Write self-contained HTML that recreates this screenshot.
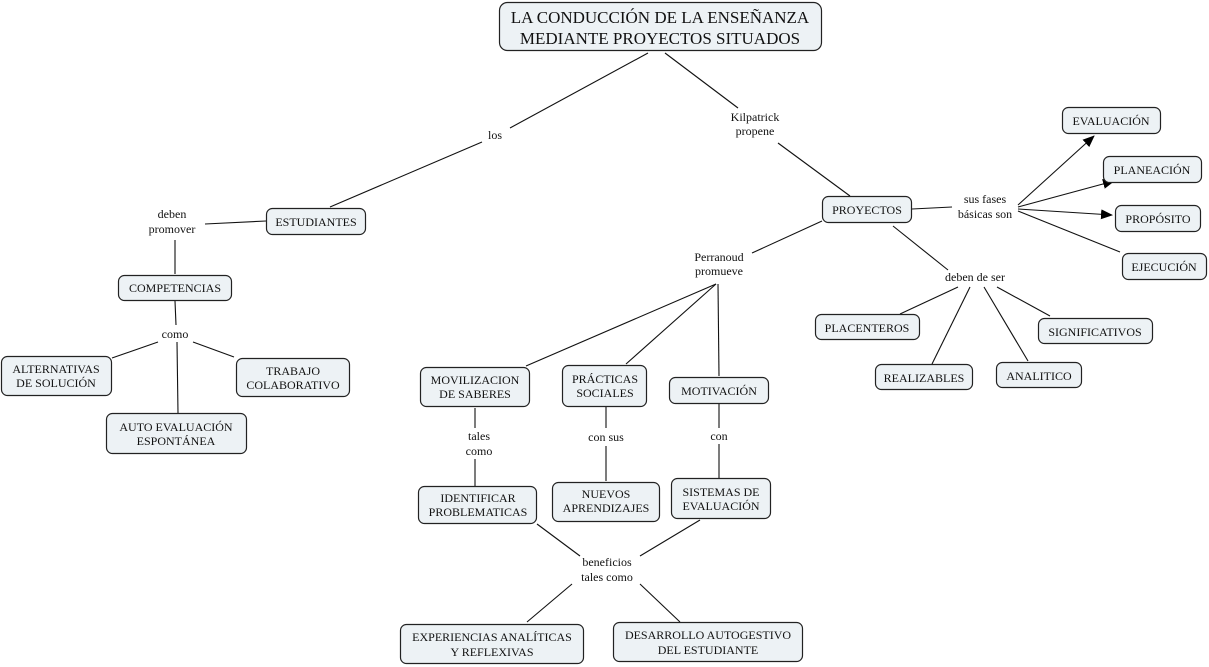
<!DOCTYPE html>
<html><head><meta charset="utf-8"><style>
html,body{margin:0;padding:0;background:#fff;}
svg{display:block;font-family:"Liberation Serif",serif;}
.b{fill:#edf2f5;stroke:#222;stroke-width:1.2;}
.l{stroke:#111;stroke-width:1.1;fill:none;}
text{font-size:12px;fill:#111;text-anchor:middle;}
</style></head><body>
<svg width="1209" height="667" viewBox="0 0 1209 667">
<defs><marker id="a" markerWidth="12" markerHeight="10" refX="11" refY="5" orient="auto" markerUnits="userSpaceOnUse"><path d="M0,0 L12,5 L0,10 z" fill="#000"/></marker></defs>
<g class="l">
<line x1="648" y1="53" x2="510" y2="128"/><line x1="482" y1="142" x2="330" y2="207"/>
<line x1="665" y1="53" x2="738" y2="108"/><line x1="778" y1="143" x2="850" y2="196"/>
<line x1="266" y1="221" x2="205" y2="224"/><line x1="175" y1="240" x2="175" y2="274"/>
<line x1="175" y1="301" x2="176" y2="325"/>
<line x1="158" y1="342" x2="112" y2="358"/><line x1="177" y1="342" x2="178" y2="413"/><line x1="193" y1="342" x2="234" y2="357"/>
<line x1="912" y1="209" x2="952" y2="207"/>
<line x1="1018" y1="205" x2="1094" y2="136" marker-end="url(#a)"/>
<line x1="1018" y1="207" x2="1114" y2="181" marker-end="url(#a)"/>
<line x1="1018" y1="209" x2="1112" y2="215" marker-end="url(#a)"/>
<line x1="1018" y1="211" x2="1120" y2="252"/>
<line x1="822" y1="221" x2="752" y2="253"/>
<line x1="716" y1="284" x2="526" y2="366"/><line x1="716" y1="284" x2="626" y2="364"/><line x1="718" y1="284" x2="719" y2="376"/>
<line x1="893" y1="226" x2="948" y2="270"/>
<line x1="958" y1="287" x2="900" y2="314"/><line x1="970" y1="287" x2="932" y2="364"/><line x1="984" y1="287" x2="1028" y2="361"/><line x1="997" y1="287" x2="1050" y2="316"/>
<line x1="475" y1="408" x2="475" y2="428"/><line x1="475" y1="459" x2="475" y2="486"/>
<line x1="606" y1="407" x2="606" y2="428"/><line x1="606" y1="446" x2="606" y2="481"/>
<line x1="719" y1="404" x2="719" y2="428"/><line x1="719" y1="444" x2="719" y2="478"/>
<line x1="537" y1="524" x2="580" y2="556"/><line x1="700" y1="520" x2="640" y2="556"/>
<line x1="572" y1="584" x2="527" y2="622"/><line x1="640" y1="584" x2="680" y2="622"/>
</g>
<rect class="b" x="499.5" y="2.5" width="322" height="48" rx="8"/>
<text x="660" y="23" style="font-size:17px">LA CONDUCCIÓN DE LA ENSEÑANZA</text>
<text x="660" y="44" style="font-size:17px">MEDIANTE PROYECTOS SITUADOS</text>
<rect class="b" x="266.5" y="208.5" width="99" height="26" rx="6"/><text x="316" y="226">ESTUDIANTES</text>
<rect class="b" x="822.5" y="196.5" width="89" height="26" rx="6"/><text x="867" y="214">PROYECTOS</text>
<rect class="b" x="1062.5" y="107.5" width="98" height="26" rx="6"/><text x="1111" y="125">EVALUACIÓN</text>
<rect class="b" x="1103.5" y="156.5" width="98" height="26" rx="6"/><text x="1152" y="174">PLANEACIÓN</text>
<rect class="b" x="1115.5" y="205.5" width="85" height="26" rx="6"/><text x="1158" y="223">PROPÓSITO</text>
<rect class="b" x="1122.5" y="253.5" width="84" height="26" rx="6"/><text x="1164" y="271">EJECUCIÓN</text>
<rect class="b" x="118.5" y="275.5" width="113" height="25" rx="6"/><text x="175" y="292">COMPETENCIAS</text>
<rect class="b" x="1.5" y="356.5" width="110" height="39" rx="6"/><text x="56" y="373">ALTERNATIVAS</text><text x="56" y="387">DE SOLUCIÓN</text>
<rect class="b" x="236.5" y="358.5" width="113" height="38" rx="6"/><text x="293" y="375">TRABAJO</text><text x="293" y="389">COLABORATIVO</text>
<rect class="b" x="106.5" y="413.5" width="140" height="40" rx="6"/><text x="176" y="431">AUTO EVALUACIÓN</text><text x="176" y="445">ESPONTÁNEA</text>
<rect class="b" x="420.5" y="367.5" width="109" height="39" rx="6"/><text x="475" y="384">MOVILIZACION</text><text x="475" y="398">DE SABERES</text>
<rect class="b" x="562.5" y="365.5" width="84" height="41" rx="6"/><text x="605" y="383">PRÁCTICAS</text><text x="605" y="397">SOCIALES</text>
<rect class="b" x="669.5" y="377.5" width="99" height="26" rx="6"/><text x="719" y="395">MOTIVACIÓN</text>
<rect class="b" x="418.5" y="486.5" width="118" height="37" rx="6"/><text x="478" y="502">IDENTIFICAR</text><text x="478" y="516">PROBLEMATICAS</text>
<rect class="b" x="552.5" y="482.5" width="107" height="39" rx="6"/><text x="606" y="498">NUEVOS</text><text x="606" y="512">APRENDIZAJES</text>
<rect class="b" x="671.5" y="478.5" width="99" height="40" rx="6"/><text x="721" y="496">SISTEMAS DE</text><text x="721" y="510">EVALUACIÓN</text>
<rect class="b" x="400.5" y="624.5" width="183" height="39" rx="6"/><text x="492" y="641">EXPERIENCIAS ANALÍTICAS</text><text x="492" y="656">Y REFLEXIVAS</text>
<rect class="b" x="613.5" y="622.5" width="189" height="39" rx="6"/><text x="708" y="639">DESARROLLO AUTOGESTIVO</text><text x="708" y="654">DEL ESTUDIANTE</text>
<rect class="b" x="815.5" y="314.5" width="104" height="25" rx="6"/><text x="867" y="332">PLACENTEROS</text>
<rect class="b" x="1038.5" y="318.5" width="114" height="25" rx="6"/><text x="1095" y="336">SIGNIFICATIVOS</text>
<rect class="b" x="875.5" y="364.5" width="97" height="25" rx="6"/><text x="924" y="382">REALIZABLES</text>
<rect class="b" x="996.5" y="362.5" width="85" height="25" rx="6"/><text x="1039" y="380">ANALITICO</text>
<text x="495" y="139">los</text>
<text x="755" y="121">Kilpatrick</text><text x="755" y="135">propene</text>
<text x="172" y="218">deben</text><text x="172" y="233">promover</text>
<text x="985" y="203">sus fases</text><text x="985" y="218">básicas son</text>
<text x="719" y="261">Perranoud</text><text x="719" y="275">promueve</text>
<text x="975" y="281">deben de ser</text>
<text x="175" y="338">como</text>
<text x="479" y="440">tales</text><text x="479" y="455">como</text>
<text x="606" y="441">con sus</text>
<text x="719" y="440">con</text>
<text x="607" y="566">beneficios</text><text x="607" y="581">tales como</text>
</svg>
</body></html>
